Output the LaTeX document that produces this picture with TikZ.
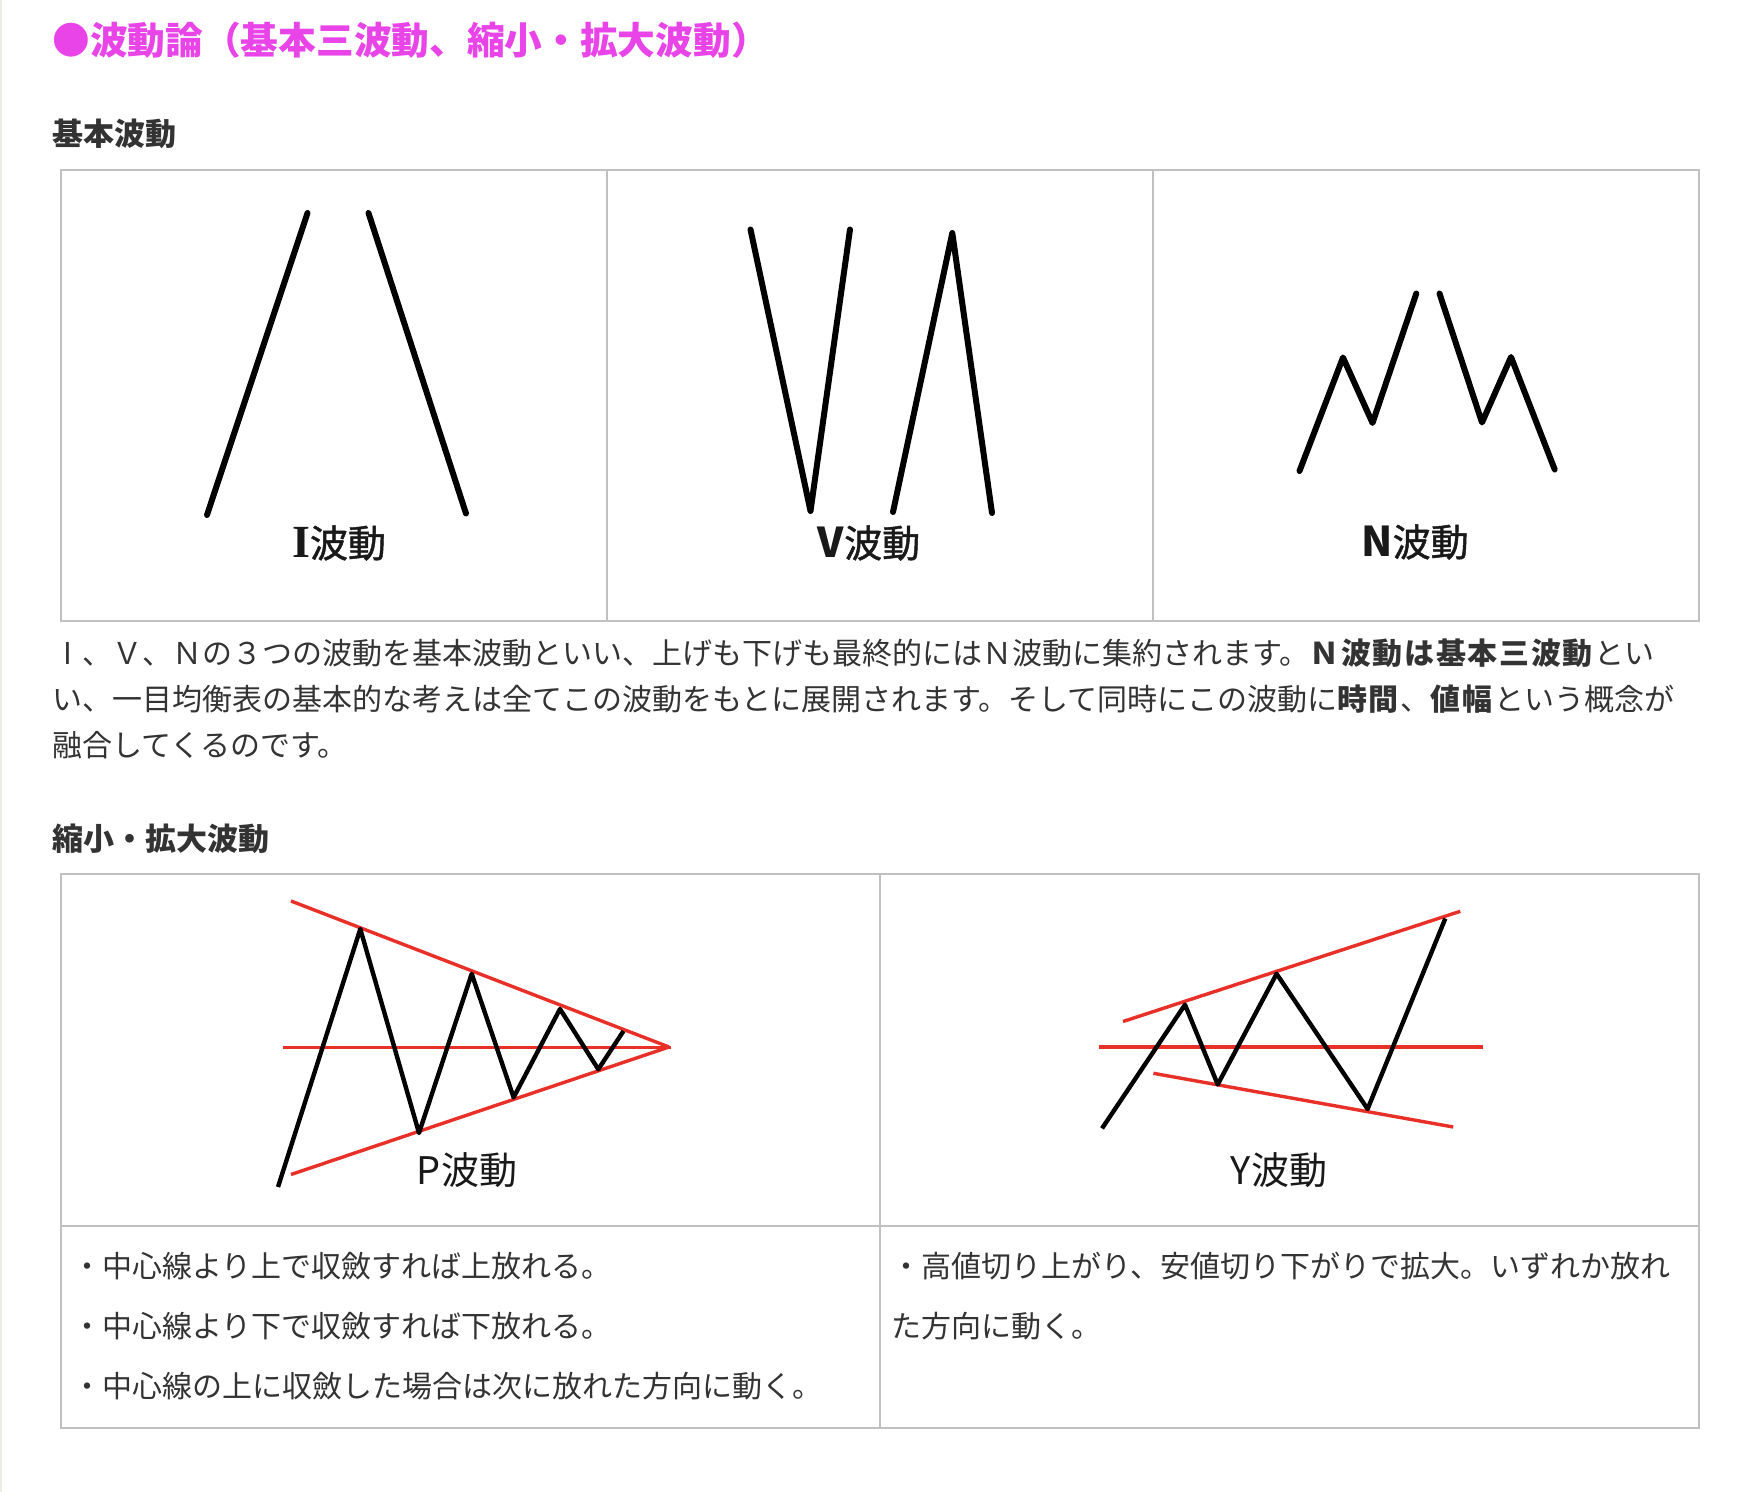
\documentclass[tikz,border=0pt]{standalone}
\usepackage{fontspec}
\setmainfont{Noto Sans CJK JP}
\newfontfamily\serifbold{Liberation Serif}
\newfontfamily\jpmed[FakeBold=1.2]{Noto Sans CJK JP}
\definecolor{titlemag}{RGB}{232,68,232}
\definecolor{txt}{RGB}{51,51,51}
\definecolor{gridc}{RGB}{192,192,192}
\definecolor{redline}{RGB}{232,48,40}
\definecolor{pageedge}{RGB}{236,236,226}
\definecolor{labc}{RGB}{25,25,25}
\newcommand\bk{\kern0.85pt}
\begin{document}
\begin{tikzpicture}[x=0.5pt,y=-0.5pt,
  body/.style={anchor=west,inner sep=0,text=txt,font=\fontsize{15}{18}\selectfont},
  head/.style={anchor=west,inner sep=0,text=txt,font=\fontsize{15.5}{18}\selectfont\bfseries},
  gridline/.style={draw=gridc,line width=1pt},
  wave/.style={draw=black,line width=3pt,line cap=round,line join=round},
  thinwave/.style={draw=black,line width=2.2pt,line join=round},
  trend/.style={draw=redline,line width=1.7pt},
  lab/.style={inner sep=0,text=labc,font=\fontsize{19}{22}\selectfont}
]
\fill[white] (0,0) rectangle (1740,1492);
\useasboundingbox (0,0) rectangle (1740,1492);
\draw[pageedge,line width=1pt] (1,0) -- (1,1492);

% title and headings
\node[anchor=west,inner sep=0,text=titlemag,font=\fontsize{18.85}{22}\selectfont\bfseries] (title) at (52,40) {●波動論（基本三波動、縮小・拡大波動）};
\node[head] (h1) at (52,134) {基本波動};
\node[head] (h2) at (52,839) {縮小・拡大波動};

% table 1
\draw[gridline] (61,170) rectangle (1699,621);
\draw[gridline] (607,170) -- (607,621);
\draw[gridline] (1153,170) -- (1153,621);

% I wave
\coordinate (i1) at (207,515);
\coordinate (i2) at (307.5,213);
\coordinate (i3) at (368.5,213);
\coordinate (i4) at (466,513.5);
\draw[wave] (i1) -- (i2);
\draw[wave] (i3) -- (i4);
\node[lab] (li) at (339,543) {{\fontsize{23}{24}\serifbold\bfseries I}{\jpmed 波動}};

% V wave
\coordinate (v1) at (750.5,229.5);
\coordinate (v2) at (810.5,511);
\coordinate (v3) at (850,229.5);
\coordinate (v4) at (893,512);
\coordinate (v5) at (952.3,233);
\coordinate (v6) at (992,513);
\draw[wave] (v1) -- (v2) -- (v3);
\draw[wave] (v4) -- (v5) -- (v6);
\node[lab] (lv) at (869,543) {{\fontsize{20.5}{22}\selectfont\bfseries V}{\jpmed 波動}};

% N wave
\coordinate (n1) at (1299.5,471);
\coordinate (n2) at (1343,357.5);
\coordinate (n3) at (1372.5,423);
\coordinate (n4) at (1416.3,293.5);
\coordinate (n5) at (1439.5,293.5);
\coordinate (n6) at (1482,422.5);
\coordinate (n7) at (1511,357);
\coordinate (n8) at (1554.7,469.5);
\draw[wave] (n1) -- (n2) -- (n3) -- (n4);
\draw[wave] (n5) -- (n6) -- (n7) -- (n8);
\node[lab] (ln) at (1415,542) {{\fontsize{20.5}{22}\selectfont\bfseries N}{\jpmed 波動}};

% paragraph
\node[body] (p1) at (52,653) {\makebox[1em]{I}、Ｖ、Ｎの３つの波動を基本波動といい、上げも下げも最終的にはＮ波動に集約されます。{\bfseries Ｎ\bk 波\bk 動\bk は\bk 基\bk 本\bk 三\bk 波\bk 動\bk}とい};
\node[body] (p2) at (52,699) {い、一目均衡表の基本的な考えは全てこの波動をもとに展開されます。そして同時にこの波動に{\bfseries 時\bk 間\bk}、{\bfseries 値\bk 幅\bk}という概念が};
\node[body] (p3) at (52,745) {融合してくるのです。};

% table 2
\draw[gridline] (61,874) rectangle (1699,1428);
\draw[gridline] (880,874) -- (880,1428);
\draw[gridline] (61,1226) -- (1699,1226);

% P wave
\coordinate (pt1) at (291,901);
\coordinate (pap) at (669,1047);
\coordinate (pc1) at (283,1047.5);
\coordinate (pc2) at (671,1047.5);
\coordinate (pb1) at (291,1174.5);
\draw[trend] (pt1) -- (pap);
\draw[trend] (pb1) -- (pap);
\draw[trend] (pc1) -- (pc2);
\coordinate (pw1) at (278,1187);
\coordinate (pw2) at (360.3,929);
\coordinate (pw3) at (419,1133);
\coordinate (pw4) at (471.7,973.8);
\coordinate (pw5) at (513.6,1097.4);
\coordinate (pw6) at (560,1009);
\coordinate (pw7) at (598.3,1069.3);
\coordinate (pw8) at (623.5,1031);
\draw[thinwave] (pw1) -- (pw2) -- (pw3) -- (pw4) -- (pw5) -- (pw6) -- (pw7) -- (pw8);
\node[lab] (lp) at (467,1170) {P波動};

% Y wave
\coordinate (yu1) at (1123,1021.5);
\coordinate (yu2) at (1460.3,911.3);
\coordinate (yc1) at (1099,1047);
\coordinate (yc2) at (1483,1047);
\coordinate (yl1) at (1153.4,1073.3);
\coordinate (yl2) at (1453.2,1127);
\draw[trend] (yu1) -- (yu2);
\draw[trend] (yc1) -- (yc2);
\draw[trend] (yl1) -- (yl2);
\coordinate (yw1) at (1102,1128.4);
\coordinate (yw2) at (1185,1004.7);
\coordinate (yw3) at (1217.7,1084.5);
\coordinate (yw4) at (1276.6,973.8);
\coordinate (yw5) at (1367.6,1109);
\coordinate (yw6) at (1445.3,918.5);
\draw[thinwave] (yw1) -- (yw2) -- (yw3) -- (yw4) -- (yw5) -- (yw6);
\node[lab] (ly) at (1279,1170) {Y波動};

% cell texts
\node[body] (c1) at (72,1266) {・中心線より上で収斂すれば上放れる。};
\node[body] (c2) at (72,1326) {・中心線より下で収斂すれば下放れる。};
\node[body] (c3) at (72,1386) {・中心線の上に収斂した場合は次に放れた方向に動く。};
\node[body] (d1) at (891,1266) {・高値切り上がり、安値切り下がりで拡大。いずれか放れ};
\node[body] (d2) at (891,1326) {た方向に動く。};
\end{tikzpicture}
\end{document}
